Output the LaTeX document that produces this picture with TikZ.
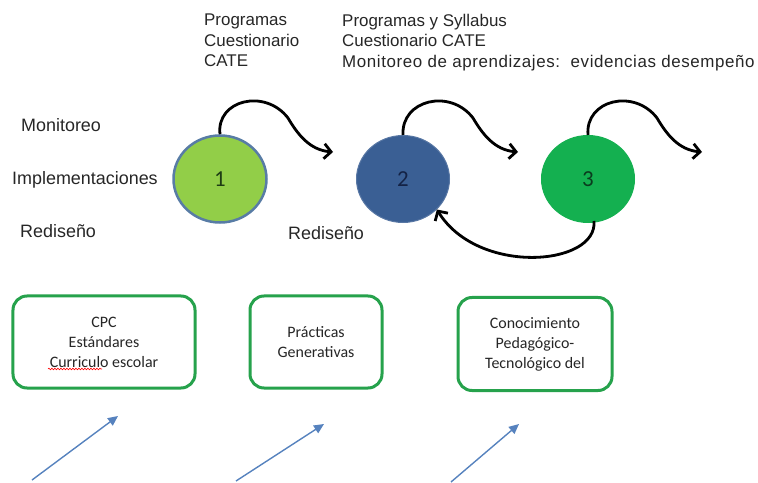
\documentclass[tikz,border=0pt]{standalone}
\usepackage{fontspec}
\setmainfont{Liberation Sans}
\newfontfamily\boxfont{Carlito}
\usetikzlibrary{arrows.meta,shapes.geometric,decorations.pathmorphing}
\definecolor{lgreen}{RGB}{146,206,72}
\definecolor{cborder}{RGB}{88,124,165}
\definecolor{dblue}{RGB}{58,95,148}
\definecolor{mgreen}{RGB}{20,176,80}
\definecolor{boxgreen}{RGB}{38,162,76}
\definecolor{arrblue}{RGB}{86,130,190}
\begin{document}
\begin{tikzpicture}[x=1bp,y=-1bp,
  lbl/.style={font=\fontsize{17}{20.5}\selectfont, text=black!85, inner sep=0pt, align=left},
  side/.style={font=\fontsize{18}{20}\selectfont, text=black!85, inner sep=0pt},
  stage/.style={ellipse, minimum width=93bp, minimum height=87bp, inner sep=0pt,
                font=\fontsize{23}{23}\selectfont\boxfont},
  flow/.style={line width=2.8bp, draw=black, -{Straight Barb[length=7bp,width=15bp,line width=2.8bp]}},
  infobox/.style={draw=boxgreen, line width=3bp, rounded corners=14bp, fill=white,
                  font=\fontsize{16}{20}\selectfont\boxfont, text=black!85, align=center},
  ptr/.style={draw=arrblue, line width=1.4bp, -{Triangle[length=10bp,width=9bp]}}
]
\useasboundingbox (0,0) rectangle (758,483);

% top texts
\node[lbl, anchor=north west] (t1) at (204,14) {Programas\\Cuestionario\\CATE};
\node[lbl, anchor=north west] (t2) at (342,14) {Programas y Syllabus\\Cuestionario CATE\\{\addfontfeature{LetterSpace=3.5}Monitoreo de aprendizajes:\ \ evidencias desempeño}};

% left labels
\node[side, anchor=west] (mon) at (21,125) {Monitoreo};
\node[side, anchor=west] (imp) at (12,180) {Implementaciones};
\node[side, anchor=west] (red1) at (20,231) {Rediseño};
\node[side, anchor=west] (red2) at (288,233) {Rediseño};

% stages
\node[stage, fill=lgreen, draw=cborder, line width=2.5bp, text={rgb,255:red,30;green,60;blue,20}] (c1) at (220,179) {1};
\node[stage, fill=dblue, draw=dblue!85!white, line width=1bp, text={rgb,255:red,20;green,35;blue,70}] (c2) at (403,179) {2};
\node[stage, fill=mgreen, draw=mgreen, line width=1bp, text={rgb,255:red,10;green,60;blue,30}] (c3) at (588,179) {3};

% flow arrows
\coordinate (e1) at (333,152);
\coordinate (e2) at (518,152);
\coordinate (e3) at (702,152);
\draw[flow] (c1.north) .. controls (216,100) and (265,88) .. (288,118) .. controls (298,135) and (310,150) .. (e1);
\draw[flow] (c2.north) .. controls (401,100) and (450,88) .. (473,118) .. controls (483,135) and (495,150) .. (e2);
\draw[flow] (c3.north) .. controls (585,100) and (634,88) .. (657,118) .. controls (667,135) and (679,150) .. (e3);
\coordinate (b0) at (594,221);
\draw[flow] (b0) .. controls (598,266) and (478,276) .. (c2.-42);

% boxes
\node[infobox, minimum width=182bp, minimum height=92bp] (b1) at (104,342) {CPC\\Estándares\\Curriculo escolar};
\draw[red, line width=0.6bp, decorate, decoration={snake, amplitude=0.8bp, segment length=3bp}] (48,369) -- (102,369);
\node[infobox, minimum width=132bp, minimum height=92bp] (b2) at (316,342) {Prácticas\\Generativas};
\node[infobox, minimum width=154bp, minimum height=93bp] (b3) at (535,344) {Conocimiento\\Pedagógico-\\Tecnológico del};

% pointer arrows
\coordinate (p1) at (32,480);
\coordinate (p2) at (236,481);
\coordinate (p3) at (451,482);
\coordinate (q1) at (118,416);
\coordinate (q2) at (324,424);
\coordinate (q3) at (519,424);
\draw[ptr] (p1) -- (q1);
\draw[ptr] (p2) -- (q2);
\draw[ptr] (p3) -- (q3);
\end{tikzpicture}
\end{document}
